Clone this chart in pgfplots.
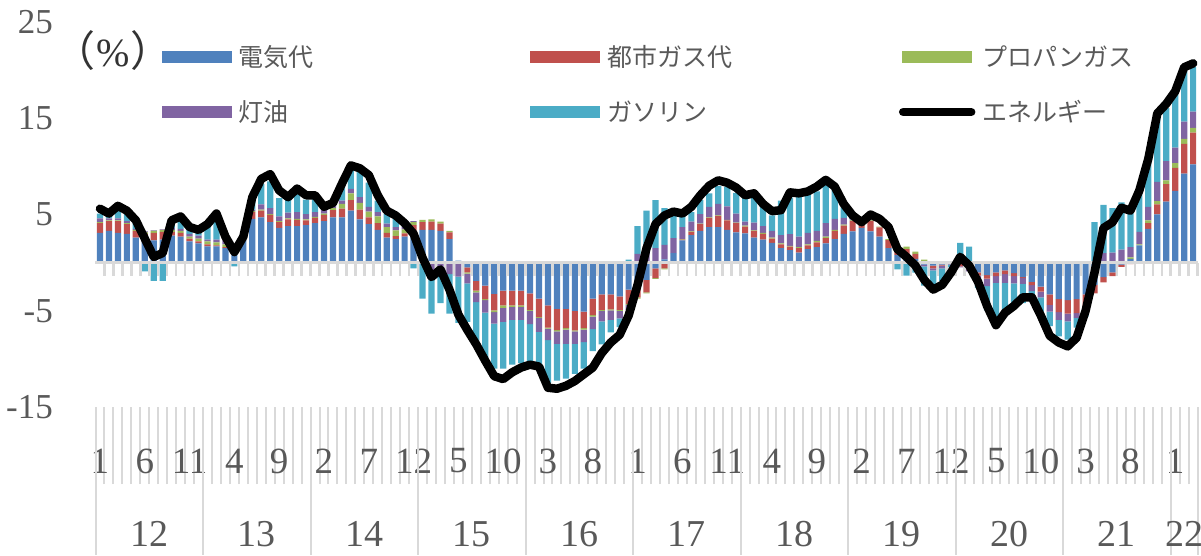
\documentclass[border=0pt]{standalone}
\usepackage{pgfplots}
\pgfplotsset{compat=1.18}
\usepackage{pgfplotstable}
\usepackage{fontspec}
\setmainfont{Liberation Serif}
\newfontfamily\cjk{Noto Sans CJK JP}
\definecolor{cE}{HTML}{4F81BD}
\definecolor{cG}{HTML}{C0504D}
\definecolor{cP}{HTML}{9BBB59}
\definecolor{cK}{HTML}{8064A2}
\definecolor{cS}{HTML}{4BACC6}
\definecolor{axgray}{HTML}{D9D9D9}
\definecolor{txtgray}{HTML}{595959}

\pgfplotstableread{
i E G P K S L
0 3.1 1.0 0.1 0.4 0.5 5.6
1 3.3 1.0 0.1 0.2 0.3 5.1
2 3.1 1.2 0.1 0.2 0.8 5.9
3 3.0 1.0 0.1 0.2 0.8 5.4
4 2.6 0.7 0.1 0.1 0.6 4.4
5 2.2 0.8 0.15 0.1 -0.9 2.5
6 2.3 0.8 0.2 0.05 -1.9 0.6
7 2.4 0.8 0.2 0.05 -1.9 1.0
8 2.8 0.4 0.2 0.2 0.8 4.4
9 2.7 0.4 0.2 0.2 1.2 4.8
10 2.2 0.3 0.2 0.3 0.7 3.7
11 2.0 0.2 0.3 0.3 0.6 3.4
12 1.7 0.2 0.3 0.2 1.4 4.0
13 1.7 0.1 0.3 0.3 2.5 5.1
14 1.5 0.1 0.3 0.6 0.3 2.7
15 1.1 0.05 0.2 0.1 -0.4 1.1
16 2.4 0.2 0.1 0.05 -0.1 2.7
17 4.55 0.7 0.1 0.15 1.3 6.8
18 4.7 0.7 0.1 0.55 2.1 8.7
19 4.2 0.75 0.1 0.6 2.8 9.2
20 3.6 0.6 0.1 0.5 1.9 7.5
21 3.8 0.7 0.1 0.6 1.6 6.8
22 3.8 0.65 0.1 0.7 2.1 7.7
23 3.9 0.5 0.1 0.55 1.5 7.0
24 4.1 0.55 0.1 0.5 1.4 7.0
25 4.3 0.65 0.15 0.35 0.5 5.8
26 4.7 0.75 0.2 0.35 0.3 6.2
27 4.7 0.9 0.5 0.35 1.5 8.2
28 5.4 1.1 0.7 0.45 2.2 10.1
29 4.5 1.0 0.7 0.6 2.6 9.8
30 4.0 0.7 0.6 0.5 2.5 9.1
31 3.4 0.7 0.7 0.45 1.2 7.0
32 2.6 0.5 0.6 0.35 1.0 5.4
33 2.45 0.3 0.6 0.35 0.9 4.9
34 2.7 0.35 0.4 0.3 0.5 4.1
35 3.3 0.6 0.3 0.1 -0.6 3.0
36 3.4 0.8 0.25 0.0 -3.75 0.5
37 3.4 0.85 0.25 -1.0 -4.3 -1.5
38 3.3 0.75 0.2 -1.0 -3.2 -0.7
39 2.45 0.7 0.15 -1.2 -4.1 -2.8
40 0.2 -0.1 0.0 -1.35 -4.8 -5.4
41 -0.5 -0.5 -0.15 -1.0 -4.0 -7.0
42 -1.9 -1.0 -0.2 -1.0 -4.0 -8.5
43 -2.4 -1.4 -0.1 -1.3 -5.2 -10.2
44 -3.25 -1.7 -0.2 -1.2 -4.65 -11.8
45 -2.9 -1.55 -0.25 -1.45 -4.85 -12.1
46 -2.9 -1.55 -0.15 -1.35 -4.65 -11.4
47 -2.9 -1.55 -0.15 -1.35 -4.5 -10.9
48 -3.2 -1.7 -0.1 -1.4 -3.95 -10.6
49 -3.75 -1.9 -0.1 -1.45 -3.8 -10.8
50 -4.45 -2.3 -0.1 -1.2 -4.45 -13.0
51 -4.8 -2.2 -0.15 -1.3 -3.8 -13.1
52 -4.8 -2.0 -0.15 -1.5 -3.6 -12.8
53 -5.0 -2.05 -0.1 -1.3 -3.1 -12.3
54 -5.1 -1.7 -0.15 -1.3 -2.75 -11.6
55 -3.75 -1.7 -0.15 -1.3 -2.3 -10.9
56 -3.3 -1.6 -0.1 -1.1 -2.4 -9.4
57 -3.3 -1.55 -0.1 -1.0 -1.3 -8.3
58 -3.5 -1.4 -0.1 -0.8 -0.9 -7.5
59 -2.8 -1.5 -0.1 -0.5 0.3 -5.5
60 -2.0 -1.6 -0.15 0.9 2.9 -2.3
61 -1.8 -1.3 -0.1 1.4 4.0 1.5
62 -0.6 -1.0 -0.1 1.5 5.0 4.0
63 0.35 -0.6 -0.1 1.5 3.8 4.9
64 1.0 -0.1 0.0 1.55 3.0 5.3
65 2.3 0.1 0.05 1.25 1.1 5.1
66 2.85 0.35 0.05 1.0 1.0 5.8
67 3.3 0.7 0.05 1.0 1.45 7.0
68 3.7 0.95 0.05 1.1 1.4 8.0
69 3.7 1.15 0.05 1.2 1.85 8.55
70 3.4 1.0 0.05 1.4 2.05 8.3
71 3.15 0.95 0.05 0.95 2.15 7.8
72 3.05 0.7 0.1 0.4 2.6 7.0
73 2.6 0.7 0.05 0.8 2.8 7.2
74 2.4 0.6 0.1 0.7 2.3 6.1
75 2.05 0.45 0.1 0.7 1.6 5.35
76 1.5 0.4 0.1 0.85 3.6 5.45
77 1.3 0.35 0.1 1.2 3.8 7.3
78 1.05 0.45 0.1 1.1 4.1 7.2
79 1.4 0.4 0.1 1.2 4.0 7.4
80 1.6 0.5 0.15 1.05 4.1 7.9
81 2.0 0.55 0.15 1.4 4.2 8.6
82 2.45 0.85 0.1 1.15 3.1 7.9
83 3.0 0.85 0.1 0.7 1.1 6.1
84 3.25 1.1 0.05 0.1 0.3 4.9
85 3.6 0.3 0.05 0.1 -0.1 4.2
86 3.25 1.1 0.05 0.05 0.0 5.0
87 2.7 0.95 0.1 0.0 -0.1 4.55
88 1.5 0.85 0.1 0.0 -0.1 3.7
89 0.8 0.75 0.15 0.0 -0.7 1.4
90 0.55 0.85 0.25 -0.05 -1.3 0.6
91 0.4 0.5 0.25 -0.05 -1.0 -0.3
92 -0.2 0.1 0.2 -0.2 -2.0 -1.8
93 -0.3 -0.3 0.15 -0.2 -2.0 -2.8
94 -0.2 -0.1 0.1 -0.3 -1.3 -2.3
95 -0.1 0.0 0.05 -0.1 -0.3 -1.0
96 0.0 -0.4 0.05 -0.1 2.0 0.6
97 -0.3 -0.4 0.05 -0.2 1.6 -0.3
98 -1.0 -0.35 0.05 -0.5 -0.8 -2.0
99 -1.3 -0.35 0.05 -0.8 -2.5 -4.5
100 -1.0 -0.4 0.05 -0.7 -3.6 -6.5
101 -0.8 -0.4 0.05 -0.9 -3.2 -5.2
102 -1.1 -0.3 0.05 -0.75 -2.5 -4.5
103 -1.5 -0.1 0.05 -0.6 -2.0 -3.6
104 -2.0 -0.35 0.05 -0.6 -0.8 -3.6
105 -2.5 -0.5 0.05 -0.6 -1.5 -5.5
106 -3.3 -1.1 0.0 -0.7 -1.5 -7.6
107 -3.8 -1.35 0.0 -0.8 -1.7 -8.3
108 -3.9 -1.4 0.0 -0.8 -1.9 -8.7
109 -3.8 -1.45 0.0 -0.5 -1.0 -7.8
110 -3.3 -1.2 0.0 -0.3 -0.8 -5.0
111 -2.3 -0.9 0.0 0.1 4.1 -1.0
112 -1.5 -0.55 0.0 1.0 5.0 3.6
113 -1.0 -0.4 0.0 1.05 4.6 4.2
114 -0.2 -0.25 0.05 1.3 4.9 5.7
115 0.4 -0.15 0.15 1.05 4.2 5.4
116 1.8 -0.1 0.1 1.3 4.0 7.5
117 3.5 0.6 0.3 1.4 5.0 10.8
118 5.0 1.05 0.35 2.0 7.0 15.5
119 6.35 1.8 0.4 2.0 5.5 16.5
120 7.45 2.4 0.5 1.6 5.8 17.8
121 9.25 3.1 0.5 1.8 5.3 20.3
122 10.2 3.3 0.5 1.7 4.6 20.7
}\data

\pgfplotsset{
  base/.style={
    scale only axis, width=1102.1pt, height=385pt,
    at={(0pt,0pt)}, anchor=south west,
    xmin=-0.5, xmax=122.5, ymin=-15, ymax=25,
    enlargelimits=false, clip=false,
  },
  hideall/.style={axis lines=none, xtick=\empty, ytick=\empty},
  barbase/.style={ybar stacked, bar width=6.2pt},
  barleg/.style={legend image code/.code={\fill[##1] (0pt,-6.25pt) rectangle (70pt,6.25pt);}},
  lineleg/.style={legend image code/.code={\draw[##1] (1pt,0pt) -- (69pt,0pt);}},
}

\begin{document}
\begin{tikzpicture}
\useasboundingbox (-95.5pt,-148pt) rectangle (1105.5pt,407pt);

% negative parts of the bars
\begin{axis}[base, hideall, barbase]
\addplot[fill=cE, draw=none] table[x=i, y expr={min(\thisrow{E},0)}] {\data};
\addplot[fill=cG, draw=none] table[x=i, y expr={min(\thisrow{G},0)}] {\data};
\addplot[fill=cP, draw=none] table[x=i, y expr={min(\thisrow{P},0)}] {\data};
\addplot[fill=cK, draw=none] table[x=i, y expr={min(\thisrow{K},0)}] {\data};
\addplot[fill=cS, draw=none] table[x=i, y expr={min(\thisrow{S},0)}] {\data};
\end{axis}

% positive parts of the bars
\begin{axis}[base, hideall, barbase]
\addplot[fill=cE, draw=none] table[x=i, y expr={max(\thisrow{E},0)}] {\data};
\addplot[fill=cG, draw=none] table[x=i, y expr={max(\thisrow{G},0)}] {\data};
\addplot[fill=cP, draw=none] table[x=i, y expr={max(\thisrow{P},0)}] {\data};
\addplot[fill=cK, draw=none] table[x=i, y expr={max(\thisrow{K},0)}] {\data};
\addplot[fill=cS, draw=none] table[x=i, y expr={max(\thisrow{S},0)}] {\data};
\end{axis}

% month row of the category axis
\begin{axis}[base,
  axis x line*=bottom, axis y line=none,
  x axis line style={draw=none},
  xtick={0,5,...,120},
  xticklabels={1,6,11,4,9,2,7,12,5,10,3,8,1,6,11,4,9,2,7,12,5,10,3,8,1},
  minor xtick={-0.5,0.5,...,122.5},
  extra x ticks={-0.5,11.5,23.5,35.5,47.5,59.5,71.5,83.5,95.5,107.5,119.5,122.5},
  extra x tick labels={},
  tick align=outside,
  major tick length=0pt,
  minor tick length=77pt,
  extra x tick style={major tick length=148pt},
  every tick/.style={axgray, line width=2pt},
  xticklabel style={font=\fontsize{37}{40}\selectfont, text=txtgray, anchor=center, yshift=-54pt},
]
\end{axis}

% year row of the category axis
\begin{axis}[base,
  axis x line*=bottom, axis y line=none,
  x axis line style={draw=none},
  xtick={5.5,17.5,29.5,41.5,53.5,65.5,77.5,89.5,101.5,113.5,121},
  xticklabels={12,13,14,15,16,17,18,19,20,21,22},
  major tick length=0pt,
  xticklabel style={font=\fontsize{38}{40}\selectfont, text=txtgray, anchor=center, yshift=-127pt},
]
\end{axis}

% zero line, energy line, legend, y labels
\begin{axis}[base,
  axis x line*=middle, axis y line*=left,
  y axis line style={draw=none},
  x axis line style={axgray, line width=3pt},
  xtick={-0.5,0.5,...,122.5}, xticklabels={},
  xtick align=outside, ytick align=inside,
  major tick length=13pt,
  xtick style={axgray, line width=2.5pt},
  ytick style={draw=none},
  ytick={-15,-5,5,15,25}, yticklabels={-15,-5,5,15,25},
  yticklabel style={font=\fontsize{35}{40}\selectfont, text=txtgray, anchor=east, inner sep=0pt, xshift=-42.5pt},
  legend columns=3,
  legend cell align=left,
  legend style={
    at={(rel axis cs:0.0603,0.9416)}, anchor=north west,
    draw=none, fill=none, inner sep=0pt, outer sep=0pt,
    row sep=30pt, column sep=7pt,
    /tikz/every even column/.append style={column sep=91.5pt},
    nodes={inner sep=0pt, text height=22pt, text depth=3pt, text width=200pt,
           font=\cjk\fontsize{25}{30}\selectfont, text=txtgray},
  },
]
\addlegendimage{fill=cE, draw=none, barleg}
\addlegendentry{電気代}
\addlegendimage{fill=cG, draw=none, barleg}
\addlegendentry{都市ガス代}
\addlegendimage{fill=cP, draw=none, barleg}
\addlegendentry{プロパンガス}
\addlegendimage{fill=cK, draw=none, barleg}
\addlegendentry{灯油}
\addlegendimage{fill=cS, draw=none, barleg}
\addlegendentry{ガソリン}
\addplot[black, line width=8.5pt, line join=round, line cap=round, lineleg]
  table[x=i, y=L] {\data};
\addlegendentry{エネルギー}
\node[text=black!80, inner sep=0pt] at (rel axis cs:0.0159,0.9247)
  {{\cjk\fontsize{42}{46}\selectfont （}\hspace{1pt}{\fontsize{40}{44}\selectfont\%}\hspace{1pt}{\cjk\fontsize{42}{46}\selectfont ）}};
\end{axis}
\end{tikzpicture}
\end{document}
